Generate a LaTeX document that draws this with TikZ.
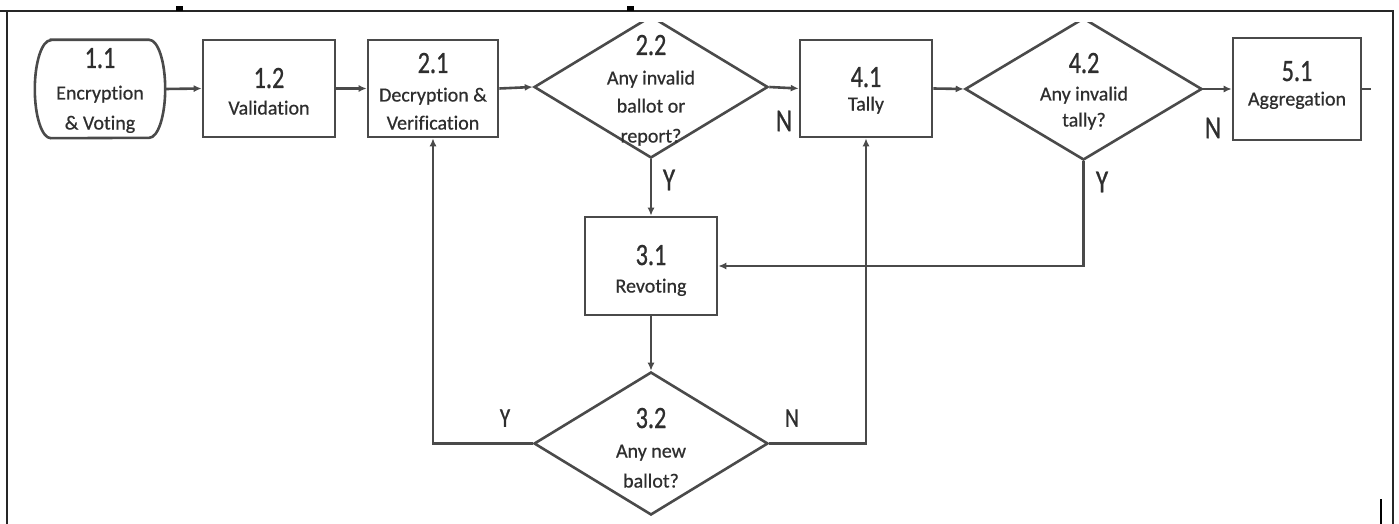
\documentclass[tikz,border=0pt]{standalone}
\usepackage{fontspec}
\setmainfont{Carlito}[Ligatures={NoCommon},FakeBold=0.6]
\newfontfamily\numfont[FakeStretch=0.78,FakeBold=0.8,Ligatures={NoCommon}]{Carlito}
\usetikzlibrary{shapes.geometric,arrows.meta}
\definecolor{ln}{HTML}{4a4a4a}
\definecolor{tx}{HTML}{2e2e2e}
\begin{document}
\begin{tikzpicture}[x=1pt,y=-1pt,
  box/.style={draw=ln,line width=2.6pt,rectangle,inner sep=0pt},
  dia/.style={draw=ln,line width=2.6pt,diamond,inner sep=0pt,minimum width=234pt,minimum height=142pt},
  conn/.style={draw=ln,line width=2.6pt},
  arr/.style={conn,-{Latex[length=8pt,width=7pt]}},
  num/.style={text=tx,font=\numfont\fontsize{31}{31}\selectfont,inner sep=0pt,text height=20pt,text depth=0pt},
  txt/.style={text=tx,font=\fontsize{20}{20}\selectfont,inner sep=0pt,text height=14pt,text depth=5pt},
  yn/.style={text=tx,font=\numfont\fontsize{32}{32}\selectfont,inner sep=0pt,text height=20.5pt,text depth=0pt},
  yns/.style={text=tx,font=\numfont\fontsize{27}{27}\selectfont,inner sep=0pt,text height=17.5pt,text depth=0pt},
  frame/.style={draw=black!85,line width=2pt}]
\useasboundingbox (0,0) rectangle (1399,524);
\fill[white] (0,0) rectangle (1399,524);

% shapes
\node[minimum width=130pt,minimum height=98pt,inner sep=0pt] (b11) at (100,89) {};
\draw[conn] ([xshift=16pt]b11.north west) -- ([xshift=-16pt]b11.north east)
  arc[start angle=90,end angle=-90,x radius=16pt,y radius=49pt]
  -- ([xshift=16pt]b11.south west)
  arc[start angle=270,end angle=90,x radius=16pt,y radius=49pt] -- cycle;
\node[box,minimum width=132pt,minimum height=97pt] (b12) at (269,88.5) {};
\node[box,minimum width=130pt,minimum height=97pt] (b21) at (433,88.5) {};
\node[dia] (d22) at (651,87) {};
\node[box,minimum width=132pt,minimum height=97pt] (b41) at (866,88.5) {};
\node[dia,minimum width=237pt] (d42) at (1083.5,89) {};
\node[box,minimum width=128pt,minimum height=102pt] (b51) at (1297,89) {};
\node[box,minimum width=132pt,minimum height=98pt] (b31) at (651,266) {};
\node[dia,minimum height=143pt] (d32) at (651,443.5) {};

% hidden diamond tips
\fill[white] (628,13) rectangle (674,22);
\fill[white] (1060,13) rectangle (1107,22);

% texts
\node[num] (t11a) at (100,58) {1.1};
\node[txt] (t11b) at (100,95) {Encryption};
\node[txt] (t11c) at (100,125) {\& Voting};
\node[num] (t12a) at (269,78) {1.2};
\node[txt] (t12b) at (269,110) {Validation};
\node[num] (t21a) at (433,63) {2.1};
\node[txt] (t21b) at (433,97) {Decryption \&};
\node[txt] (t21c) at (433,125) {Verification};
\node[num] (t22a) at (651,45) {2.2};
\node[txt] (t22b) at (651,80) {Any invalid};
\node[txt] (t22c) at (651,108) {ballot or};
\node[txt] (t22d) at (651,138) {report?};
\node[num] (t41a) at (866,77) {4.1};
\node[txt] (t41b) at (866,106) {Tally};
\node[num] (t42a) at (1084,63) {4.2};
\node[txt] (t42b) at (1084,96) {Any invalid};
\node[txt] (t42c) at (1084,122) {tally?};
\node[num] (t51a) at (1297,71) {5.1};
\node[txt] (t51b) at (1297,101) {Aggregation};
\node[num] (t31a) at (651,255) {3.1};
\node[txt] (t31b) at (651,288) {Revoting};
\node[num] (t32a) at (651,418) {3.2};
\node[txt] (t32b) at (651,453) {Any new};
\node[txt] (t32c) at (651,483) {ballot?};

% Y / N labels
\node[yn] (n1) at (784,121) {N};
\node[yn] (n2) at (1213,128) {N};
\node[yn] (y1) at (669,180) {Y};
\node[yn] (y2) at (1102,182) {Y};
\node[yns] (y3) at (505,418) {Y};
\node[yns] (n3) at (792,418) {N};

% connectors
\draw[arr] (b11.east) -- (b12.west);
\draw[arr] (b12.east) -- (b21.west);
\draw[arr] (b21.east) -- (d22.west);
\draw[arr] (d22.east) -- (b41.west);
\draw[arr] (b41.east) -- (d42.west);
\draw[arr] (d42.east) -- (b51.west);
\coordinate (s51) at (1371,89);
\draw[conn] (b51.east) -- (s51);
\draw[arr] (d22.south) -- (b31.north);
\draw[arr] (d42.south) |- (b31.east);
\draw[arr] (b31.south) -- (d32.north);
\draw[arr] (d32.west) -| (b21.south);
\draw[arr] (d32.east) -| (b41.south);

% frame
\draw[frame] (0,11) -- (1394,11);
\draw[frame] (7,11) -- (7,524);
\draw[frame] (1393,11) -- (1393,524);
\fill[black] (176,6) rectangle (183,11);
\fill[black] (627,6) rectangle (634,11);
\draw[black,line width=1.2pt] (1381,499) -- (1381,524);
\end{tikzpicture}
\end{document}
